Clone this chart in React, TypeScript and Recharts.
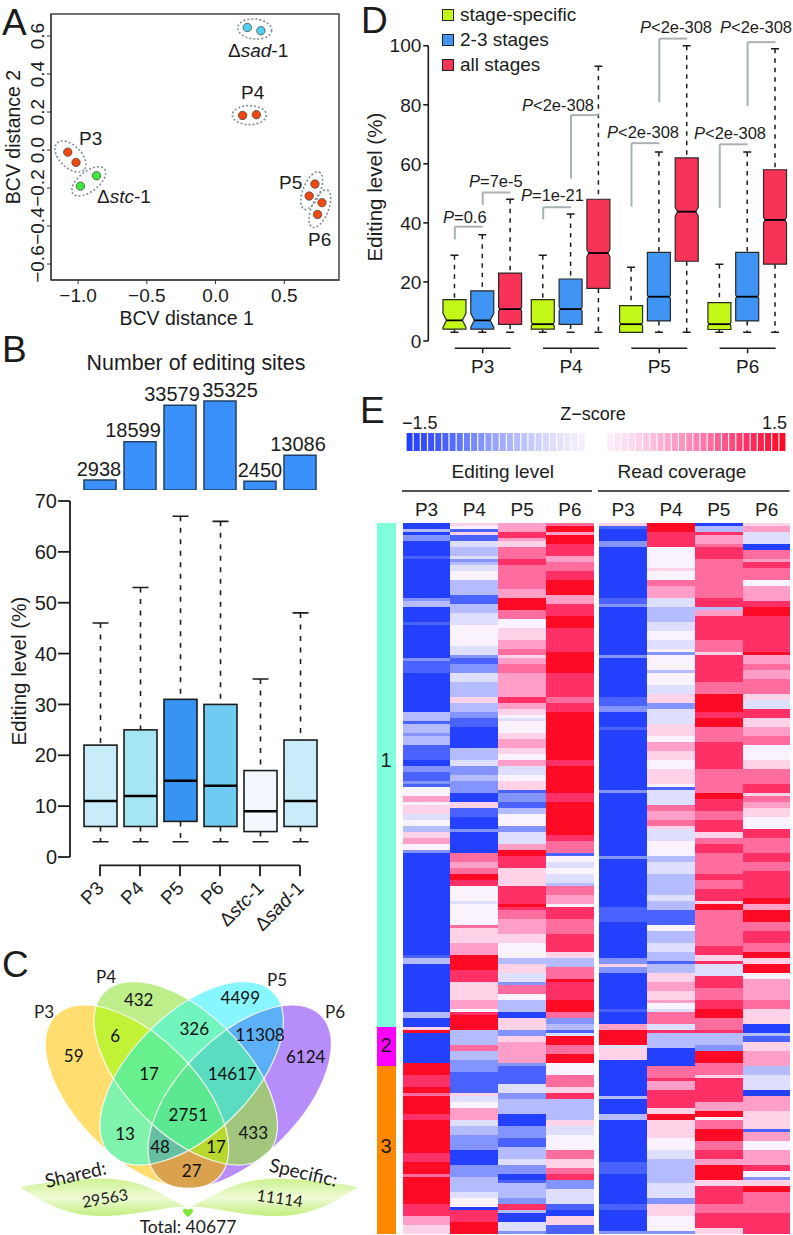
import React from 'react';
import {
  BarChart, Bar, Cell, XAxis, YAxis, ScatterChart, Scatter, ReferenceDot, ReferenceArea,
  ReferenceLine, LabelList, Legend,
} from 'recharts';

const FONT = '"Liberation Sans", Arial, sans-serif';
const VENN_FONT = 'Lato, sans-serif';
const INK = '#1c1c1c';

// --- A: BCV scatter
const A_ORANGE = '#F0480F';
const A_SAD = [{ x: 0.231, y: 0.645 }, { x: 0.33, y: 0.628 }];
const A_STC = [{ x: -0.983, y: -0.19 }, { x: -0.866, y: -0.135 }];
const A_STAGES = [
  { x: -1.075, y: -0.011 }, { x: -1.015, y: -0.065 },
  { x: 0.197, y: 0.182 }, { x: 0.297, y: 0.186 },
  { x: 0.723, y: -0.179 }, { x: 0.681, y: -0.242 },
  { x: 0.774, y: -0.277 }, { x: 0.742, y: -0.339 },
];
const A_XTICKS = [-1, -0.5, 0, 0.5];
const A_YTICKS = [-0.6, -0.4, -0.2, 0, 0.2, 0.4, 0.6];
const A_RINGS = [
  { x: 0.285, y: 0.637, rx: 17, ry: 10, tilt: 5 },
  { x: 0.246, y: 0.184, rx: 17, ry: 9.5, tilt: 0 },
  { x: -1.056, y: -0.034, rx: 19, ry: 11, tilt: 45 },
  { x: -0.922, y: -0.165, rx: 20, ry: 10, tilt: -38 },
  { x: 0.699, y: -0.213, rx: 20, ry: 8.5, tilt: -68 },
  { x: 0.759, y: -0.309, rx: 20, ry: 8.5, tilt: -68 },
];

// --- B: sites per sample and editing level
const B_SAMPLES = ['P3', 'P4', 'P5', 'P6', 'stc', 'sad'];
const B_SITES = [2938, 18599, 33579, 35325, 2450, 13086];
const B_LABEL_NUDGE = [-1, -7, -8, 10, 0, -2];
const B_HIGH = [46, 53, 67, 66, 35, 48];
const B_Q3 = [22, 25, 31, 30, 17, 23];
const B_MEDIAN = [11, 12, 15, 14, 9, 11];
const B_Q1 = [6, 6, 7, 6, 5, 6];
const B_LOW = [3, 3, 3, 3, 3, 3];
const B_FILL = ['#C8ECFA', '#A6E6F2', '#3894F2', '#6FCBF2', '#F2F8FE', '#C8ECFA'];
const B_TICKS = [0, 10, 20, 30, 40, 50, 60, 70];
const SITE_FLOOR = -1150;

const sitesTable = B_SAMPLES.map((name, i) => ({ name, sites: B_SITES[i], span: [SITE_FLOOR, B_SITES[i]] }));
const bBoxes = B_SAMPLES.map((name, i) => ({
  name, span: [B_LOW[i], B_HIGH[i]], high: B_HIGH[i], q3: B_Q3[i], median: B_MEDIAN[i], q1: B_Q1[i], low: B_LOW[i], fill: B_FILL[i],
}));

// --- C: venn, axis units are page pixels
const VENN_SETS = [
  { name: 'P3', x: 137, y: 1096.7, tilt: 45 },
  { name: 'P4', x: 185.7, y: 1073.3, tilt: 45 },
  { name: 'P5', x: 191.7, y: 1073.3, tilt: -45 },
  { name: 'P6', x: 239.7, y: 1096.7, tilt: -45 },
];
const VENN_REGIONS = [
  { value: 59, sets: [0], fill: '#FFDD6E', x: 73.7, y: 1056 },
  { value: 432, sets: [1], fill: '#BDEE8A', x: 138.7, y: 1000 },
  { value: 4499, sets: [2], fill: '#88F6FF', x: 240.3, y: 998.3 },
  { value: 6124, sets: [3], fill: '#B78DFB', x: 305.7, y: 1056.7 },
  { value: 6, sets: [0, 1], fill: '#C2F235', x: 115.3, y: 1036 },
  { value: 326, sets: [1, 2], fill: '#72F4BE', x: 194.3, y: 1029 },
  { value: 11308, sets: [2, 3], fill: '#5CB0F8', x: 260, y: 1035 },
  { value: 13, sets: [0, 2], fill: '#7FF2AC', x: 125, y: 1134 },
  { value: 433, sets: [1, 3], fill: '#A2C67E', x: 253.3, y: 1133.3 },
  { value: 27, sets: [0, 3], fill: '#DBA24E', x: 191.7, y: 1170.7 },
  { value: 17, sets: [0, 1, 2], fill: '#68F08E', x: 149, y: 1074 },
  { value: 14617, sets: [1, 2, 3], fill: '#5ADCC0', x: 232.3, y: 1074 },
  { value: 48, sets: [0, 2, 3], fill: '#66BFA0', x: 160, y: 1146.7 },
  { value: 17, sets: [0, 1, 3], fill: '#B8D830', x: 216, y: 1146.7 },
  { value: 2751, sets: [0, 1, 2, 3], fill: '#5CE890', x: 188.3, y: 1115 },
];

// --- D: notched boxes per stage
const D_STAGES = ['stage-specific', '2-3 stages', 'all stages'];
const D_COLORS = ['#C3F716', '#3F94F4', '#F73357'];
const D_GROUPS = ['P3', 'P4', 'P5', 'P6'];
const D_HIGH = [[29, 36, 48], [29, 43, 93], [25, 64, 100], [26, 64, 99]];
const D_Q3 = [[14, 17, 23], [14, 21, 48], [12, 30, 62], [13, 30, 58]];
const D_MEDIAN = [[7, 7, 10.8], [5.7, 10.8, 29.8], [5.7, 15, 43.8], [5.7, 15, 41]];
const D_Q1 = [[4, 4, 5.6], [4, 5.6, 17.8], [2.9, 6.8, 27], [3.9, 6.8, 26]];
const D_NOTCH = [[2.4, 2.4, 0.7], [0.7, 0.7, 1.2], [0.6, 0.6, 1.5], [0.6, 0.6, 1]];
const D_LOW = 3;
const D_STAGE_STEP = 0.315;
const D_TICKS = [0, 20, 40, 60, 80, 100];

const stageX = (group: number, stage: number) => group + (stage - 1) * D_STAGE_STEP;
const dBoxes = D_GROUPS.flatMap((name, g) =>
  D_STAGES.map((stage, s) => ({
    name, stage, x: stageX(g, s), span: [D_LOW, D_HIGH[g][s]], high: D_HIGH[g][s], q3: D_Q3[g][s],
    median: D_MEDIAN[g][s], q1: D_Q1[g][s], low: D_LOW, notch: D_NOTCH[g][s], fill: D_COLORS[s],
  })),
);

// group, first stage, last stage, foot and top of each bracket
const P_BRACKETS = [
  [0, 0, 1, 34.4, 38.7], [0, 1, 2, 46.1, 50.3], [1, 0, 1, 41.2, 45.3], [1, 1, 2, 55, 76.5],
  [2, 0, 1, 45.5, 67], [3, 0, 1, 45, 66.6], [2, 1, 2, 80.8, 102.4], [3, 1, 2, 79.6, 101.2],
];

// --- E: z-score bar and heatmap. Levels run from -5 to 5 (0.3 z each); [level, rows, level, rows...]
const Z_SCALE = [
  -1.5, -1.44, -1.38, -1.32, -1.26, -1.2, -1.14, -1.08, -1.02, -0.96, -0.9, -0.84, -0.78, -0.72, -0.66, -0.6, -0.54,
  -0.48, -0.42, -0.36, -0.3, -0.24, -0.18, -0.12, -0.06, 0, 0, 0, 0.06, 0.12, 0.18, 0.24, 0.3, 0.36, 0.42, 0.48, 0.54,
  0.6, 0.66, 0.72, 0.78, 0.84, 0.9, 0.96, 1.02, 1.08, 1.14, 1.2, 1.26, 1.32, 1.38, 1.44, 1.5,
];
const HEAT_COLORS = ['#2440FF', '#4A62FF', '#8494FF', '#B4BCFF', '#DEDFFF', '#FBF2FF', '#FFD2E8', '#FF9EC6', '#FF6C9E', '#FF3065', '#FF0A25'];

const EDIT_P3 = [
  -5,2,-2,1,-5,1,-3,2,-5,5,-4,1,-5,13,-3,1,-2,2,-5,5,-4,1,-5,5,
  -5,6,-3,1,-4,4,-5,13,-2,3,-4,1,-2,3,-3,1,-2,3,-4,5,
  -5,2,-3,2,-4,3,-3,1,-4,1,0,3,2,2,0,1,1,3,-1,2,0,2,-2,2,1,2,2,2,0,2,-3,1,-5,9,
  -5,25,-4,1,-2,2,-5,12,
  -5,4,-2,2,-5,3,1,1,5,1,-5,10,5,4,4,4,5,2,3,1,5,6,4,2,
  5,11,4,3,5,4,3,1,5,9,4,4,2,3,1,3,
];
const EDIT_P4 = [
  1,1,0,1,-4,1,1,1,-4,2,-1,2,-2,3,-1,1,-3,1,-2,1,-1,2,0,3,-2,5,-4,3,-2,3,-1,4,0,5,
  0,2,-1,3,-3,1,-4,2,-3,3,-1,3,-2,5,1,2,-2,3,-3,2,-4,3,-5,7,-2,4,
  -1,2,-3,3,-2,2,-3,2,-3,2,-5,3,1,2,-4,3,-5,4,-3,1,-5,7,3,3,2,2,3,2,5,2,
  4,2,0,5,-1,1,0,7,3,1,1,5,2,4,5,5,4,4,1,3,1,3,
  2,3,0,1,4,1,5,5,-2,5,3,2,-2,3,-3,4,-4,7,1,1,-1,2,0,2,2,4,
  -1,2,-2,3,-3,5,-5,5,-3,4,-2,5,-1,2,0,3,-5,1,4,4,5,4,
];
const EDIT_P5 = [
  2,3,4,2,2,1,1,2,3,4,4,2,3,8,2,3,5,4,3,3,0,3,1,4,
  2,3,3,2,1,1,2,2,3,2,3,1,2,8,4,2,2,2,1,2,0,1,-1,1,0,4,1,2,2,3,1,2,0,2,
  2,2,-1,3,0,2,1,3,-4,1,-3,3,-4,2,-2,2,0,4,-3,2,-1,4,2,2,5,2,4,4,1,4,
  1,2,4,3,4,3,5,1,4,1,3,3,2,5,1,3,0,5,-2,2,1,3,-1,3,-3,1,3,3,0,2,
  -2,4,-5,2,1,4,-3,2,1,2,2,5,2,2,-3,1,-4,3,-4,3,-1,3,-3,2,-2,5,-5,2,
  -5,2,-3,4,-4,3,-2,4,-1,2,-3,3,-5,2,-4,1,-2,5,-3,2,4,2,-2,1,-5,3,-1,3,-3,1,
];
const EDIT_P6 = [
  3,1,5,2,2,1,5,3,4,4,2,2,3,3,4,3,5,5,2,3,4,4,5,4,4,4,
  4,4,5,7,4,8,3,2,4,3,5,16,
  4,2,5,9,4,3,5,11,4,2,3,4,-4,1,0,2,-1,2,0,2,-1,2,
  -1,1,-2,1,3,3,2,3,0,1,4,4,3,5,4,6,1,2,-2,3,3,4,5,1,4,6,
  5,4,3,2,-3,2,-2,2,-4,1,-1,1,5,3,3,3,5,3,0,4,3,4,1,2,4,2,-2,7,
  1,2,-1,3,0,5,3,3,1,3,3,2,4,2,-3,3,-1,5,-4,2,-5,2,1,3,-4,3,
];
const READ_P3 = [
  1,1,-4,1,-5,4,-3,2,-5,17,-4,2,-3,1,-5,11,
  -5,5,-3,1,-5,13,-4,3,-3,2,-5,5,-4,1,-5,10,
  -5,10,-3,1,-5,21,-3,1,-5,7,
  -5,9,-4,5,-5,12,-3,2,1,1,-3,2,-5,9,
  -5,3,-4,1,-5,4,2,2,5,5,-1,1,1,4,-5,12,-2,1,-5,5,-2,2,
  -5,14,-4,4,-5,10,-4,2,-5,7,-3,1,
];
const READ_P4 = [
  5,3,4,5,0,7,1,1,0,3,3,2,2,4,-1,3,-2,5,-1,3,0,3,
  -1,3,0,1,-3,1,0,5,-2,1,0,4,-1,3,1,3,-3,2,-1,5,1,4,0,2,2,3,1,3,
  0,3,1,5,0,1,-4,1,-1,5,3,2,2,3,3,2,1,1,-1,4,0,5,-2,2,-1,4,-2,2,
  -2,2,-2,3,-1,2,-2,3,-4,5,0,2,-2,4,-1,3,-2,3,-4,1,-2,3,1,3,2,3,1,3,
  2,1,0,2,-1,1,3,4,-1,2,4,1,-2,5,-5,6,3,4,4,1,2,3,4,6,1,2,5,2,
  1,1,1,5,0,4,-1,3,-2,8,-1,5,-3,2,1,4,0,5,-3,1,
];
const READ_P5 = [
  -5,1,-2,2,4,1,2,3,3,1,4,4,3,13,4,3,-2,1,2,2,4,8,
  3,4,1,1,4,6,4,3,3,4,5,6,4,2,5,3,3,5,4,6,
  4,3,3,8,5,2,4,4,3,3,4,4,1,2,3,2,4,3,3,7,4,2,
  3,3,4,4,1,1,5,2,3,5,3,7,4,3,1,2,4,1,-1,4,4,4,3,4,
  4,3,5,3,3,4,4,1,-2,4,-3,2,5,4,3,4,1,1,4,8,2,3,5,2,0,1,
  3,3,5,4,3,3,4,3,2,2,5,5,1,2,4,6,3,3,4,5,1,2,
];
const READ_P6 = [
  1,1,2,2,-1,4,-5,2,3,3,2,1,4,2,3,4,0,2,2,5,4,2,5,3,4,8,
  4,4,5,1,2,3,3,2,2,3,3,5,1,2,-1,3,4,3,1,3,2,3,3,3,0,5,
  1,3,3,5,4,3,1,1,3,2,2,2,1,3,0,4,4,3,3,5,4,3,3,3,4,3,
  4,2,4,4,5,2,2,2,5,4,3,3,4,4,3,3,5,2,1,2,5,3,0,2,2,4,2,3,
  3,3,1,5,-5,3,-2,1,-4,2,1,3,2,5,-2,3,-1,5,-5,2,2,5,1,6,
  -4,1,2,3,0,3,2,2,2,3,4,2,0,2,-3,1,1,2,5,2,3,7,4,8,5,2,
];
const CLUSTER_ROWS = [168, 13, 56];
const CLUSTER_COLORS = ['#80FFDD', '#FF00FF', '#FF8800'];

const HEAT_COLUMNS = [
  { key: 'ep3', label: 'P3', runs: EDIT_P3 }, { key: 'ep4', label: 'P4', runs: EDIT_P4 },
  { key: 'ep5', label: 'P5', runs: EDIT_P5 }, { key: 'ep6', label: 'P6', runs: EDIT_P6 },
  { key: 'rp3', label: 'P3', runs: READ_P3 }, { key: 'rp4', label: 'P4', runs: READ_P4 },
  { key: 'rp5', label: 'P5', runs: READ_P5 }, { key: 'rp6', label: 'P6', runs: READ_P6 },
];
const HEAT_ROWS = 237;
const CLUSTER_W = 19.3;
const LEAD_GAP = 6.3;
const COL_W = 47.8;
const MID_GAP = 5.5;

function expand(runs: number[]) {
  const out: number[] = [];
  for (let i = 0; i < runs.length; i += 2) {
    for (let n = 0; n < runs[i + 1]; n++) out.push(runs[i]);
  }
  return out;
}

const columnLevels = HEAT_COLUMNS.map((c) => expand(c.runs));
const clusterOf = CLUSTER_ROWS.flatMap((n, i) => Array(n).fill(i));
const heatRows = Array.from({ length: HEAT_ROWS }, (_, row) => {
  const r: any = { row, cluster: CLUSTER_W, leadGap: LEAD_GAP, midGap: MID_GAP };
  HEAT_COLUMNS.forEach((c) => { r[c.key] = COL_W; });
  return r;
});
const heatLevel = (col: number, row: number) => {
  const levels = columnLevels[col];
  return levels[Math.min(row, levels.length - 1)];
};
const HEAT_TICKS = HEAT_COLUMNS.map((_, i) => CLUSTER_W + LEAD_GAP + COL_W * (i + 0.5) + (i > 3 ? MID_GAP : 0));
const HEAT_TOTAL = CLUSTER_W + LEAD_GAP + COL_W * 8 + MID_GAP;

function hexRgb(hex: string) {
  return [1, 3, 5].map((i) => parseInt(hex.slice(i, i + 2), 16));
}
function zColor(z: number) {
  if (z === 0) return '#ffffff';
  const pos = z / 0.3 + 5;
  const lo = Math.min(Math.floor(pos), 9);
  const t = pos - lo;
  const a = hexRgb(HEAT_COLORS[lo]);
  const b = hexRgb(HEAT_COLORS[lo + 1]);
  return `rgb(${a.map((v, i) => Math.round(v + (b[i] - v) * t)).join(',')})`;
}

const minus = (v: number, digits = 1) => v.toFixed(digits).replace('-', '\u2212');

function Place({ left, top, children }: any) {
  return <div style={{ position: 'absolute', left, top }}>{children}</div>;
}

// A pieces
function Dot({ cx, cy, fill }: any) {
  return <circle cx={cx} cy={cy} r={4.2} fill={fill} stroke="#4a4a3a" strokeWidth={0.8} />;
}

function RotatedTick({ x, y, payload }: any) {
  return (
    <text x={0} y={0} transform={`translate(${x - 1},${y}) rotate(-90)`} textAnchor="middle" fontSize={19} fill={INK}>
      {minus(payload.value)}
    </text>
  );
}

function PanelA() {
  return (
    <ScatterChart width={360} height={340} margin={{ top: 14, right: 21, bottom: 0, left: 0 }}>
      <XAxis type="number" dataKey="x" domain={[-1.197, 0.898]} ticks={A_XTICKS} allowDataOverflow height={60}
        tickSize={4} tickMargin={5} stroke="#333" tick={{ fontSize: 19, fill: INK }} tickFormatter={(v) => minus(v)} />
      <YAxis type="number" dataKey="y" domain={[-0.684, 0.716]} ticks={A_YTICKS} allowDataOverflow width={51}
        tickSize={4} stroke="#333" tick={<RotatedTick />} />
      <ReferenceArea x1={-1.197} x2={0.898} y1={-0.684} y2={0.716} fill="none" stroke="#444" strokeWidth={1.5} ifOverflow="visible" />
      {A_RINGS.map((ring, i) => (
        <ReferenceDot key={i} x={ring.x} y={ring.y} ifOverflow="visible"
          shape={({ cx, cy }: any) => (
            <ellipse cx={cx} cy={cy} rx={ring.rx} ry={ring.ry} transform={`rotate(${ring.tilt} ${cx} ${cy})`}
              fill="none" stroke="#7f8f96" strokeWidth={1.6} strokeDasharray="2 2" />
          )} />
      ))}
      <Scatter data={A_SAD} isAnimationActive={false} shape={(p: any) => <Dot {...p} fill="#4FD1F5" />} />
      <Scatter data={A_STC} isAnimationActive={false} shape={(p: any) => <Dot {...p} fill="#3CE83C" />} />
      <Scatter data={A_STAGES} isAnimationActive={false} shape={(p: any) => <Dot {...p} fill={A_ORANGE} />} />
    </ScatterChart>
  );
}

// B pieces
function SiteLabel({ x, y, width, value, index }: any) {
  return (
    <text x={x + width / 2 + B_LABEL_NUDGE[index]} y={y - 4.5} textAnchor="middle" fontSize={20} fill={INK}>{value}</text>
  );
}

function PanelBSites() {
  return (
    <BarChart width={290} height={115} data={sitesTable} margin={{ top: 0, right: 25, bottom: 0, left: 25 }} barSize={32}>
      <XAxis dataKey="name" hide />
      <YAxis hide domain={[SITE_FLOOR, 45981]} allowDataOverflow />
      <Bar dataKey="span" fill="#3A90F8" stroke="#1f3f66" strokeWidth={1.5} isAnimationActive={false}>
        <LabelList dataKey="sites" content={<SiteLabel />} />
      </Bar>
    </BarChart>
  );
}

function LevelBox({ x, y, width, height, payload }: any) {
  const { high, low, q3, median, q1, fill } = payload;
  const at = (v: number) => y + (height * (high - v)) / (high - low);
  const mid = x + width / 2;
  return (
    <g>
      <path d={`M${mid} ${at(high)}V${at(q3)}M${mid} ${at(q1)}V${at(low)}`} stroke={INK} strokeWidth={1.6} strokeDasharray="5 6.5" fill="none" />
      <path d={`M${mid - 8} ${at(high)}h16M${mid - 8} ${at(low)}h16`} stroke={INK} strokeWidth={1.6} fill="none" />
      <rect x={x} y={at(q3)} width={width} height={at(q1) - at(q3)} fill={fill} stroke={INK} strokeWidth={1.6} />
      <line x1={x} x2={x + width} y1={at(median)} y2={at(median)} stroke="#000" strokeWidth={2.6} />
    </g>
  );
}

function SampleTick({ x, y, payload, index }: any) {
  const barY = y + 8.3;
  const name = payload.value;
  const mutant = name === 'stc' || name === 'sad';
  return (
    <g>
      <path d={`M${x} ${barY + 11}V${barY}${index < 5 ? 'h40' : ''}`} stroke={INK} strokeWidth={1.8} fill="none" />
      <text transform={`translate(${x + 5},${barY + 24}) rotate(-45)`} textAnchor="end" fontSize={19} fill={INK}>
        {mutant ? (
          <>{'\u0394'}<tspan fontStyle="italic">{name}</tspan>-1</>
        ) : name}
      </text>
    </g>
  );
}

function PanelBLevels() {
  return (
    <BarChart width={320} height={467} data={bBoxes} margin={{ top: 21, right: 0, bottom: 0, left: 0 }} barSize={33}>
      <XAxis dataKey="name" scale="band" padding={{ left: 10, right: 0 }} axisLine={false} tickLine={false} tickSize={0} tickMargin={0}
        interval={0} height={90} tick={<SampleTick />} />
      <YAxis domain={[0, 70]} ticks={B_TICKS} width={70} tickSize={12} tickMargin={1} stroke={INK} strokeWidth={1.8}
        tick={{ fontSize: 20, fill: INK }} />
      <Bar dataKey="span" isAnimationActive={false} shape={<LevelBox />} />
    </BarChart>
  );
}

// C pieces
const VENN_RX = 115;
const VENN_RY = 60;

function VennClip({ cx, cy, index, tilt }: any) {
  return (
    <clipPath id={`venn-set-${index}`}>
      <ellipse cx={cx} cy={cy} rx={VENN_RX} ry={VENN_RY} transform={`rotate(${tilt} ${cx} ${cy})`} />
    </clipPath>
  );
}

function VennRegion({ cx, cy, sets, fill }: any) {
  const rect = <rect x={cx - 400} y={cy - 400} width={800} height={800} fill={fill} />;
  return sets.reduceRight(
    (inner: any, s: number) => <g clipPath={`url(#venn-set-${s})`}>{inner}</g>,
    rect,
  );
}

function PanelC() {
  return (
    <ScatterChart width={360} height={255} margin={{ top: 0, right: 0, bottom: 0, left: 0 }}>
      <XAxis type="number" dataKey="x" hide domain={[0, 360]} allowDataOverflow />
      <YAxis type="number" dataKey="y" hide domain={[980, 1235]} reversed allowDataOverflow />
      <Scatter data={VENN_SETS} isAnimationActive={false} shape={(p: any) => <VennClip {...p} tilt={p.payload.tilt} index={VENN_SETS.indexOf(p.payload)} />} />
      <Scatter data={VENN_REGIONS} isAnimationActive={false} shape={(p: any) => <VennRegion cx={p.cx} cy={p.cy} sets={p.payload.sets} fill={p.payload.fill} />} />
      <Scatter data={VENN_SETS} isAnimationActive={false}
        shape={({ cx, cy, payload }: any) => (
          <ellipse cx={cx} cy={cy} rx={VENN_RX} ry={VENN_RY} transform={`rotate(${payload.tilt} ${cx} ${cy})`} fill="none" stroke="#fff" strokeWidth={1.2} opacity={0.85} />
        )} />
      <Scatter data={VENN_REGIONS} isAnimationActive={false}
        shape={({ cx, cy, payload }: any) => (
          <text x={cx} y={cy + 6} textAnchor="middle" fontSize={17} fontFamily={VENN_FONT} fill="#111">{payload.value}</text>
        )} />
    </ScatterChart>
  );
}

// D pieces
function NotchBox({ x, y, width, height, payload }: any) {
  const { high, low, q3, median, q1, notch, fill } = payload;
  const at = (v: number) => y + (height * (high - v)) / (high - low);
  const mid = x + width / 2;
  const r = x + width;
  const inset = Math.min(3.5, notch * 1.6);
  const nHi = at(median + notch);
  const nLo = at(Math.max(median - notch, q1 + 0.3));
  const m = at(median);
  return (
    <g>
      <path d={`M${mid} ${at(high)}V${at(q3)}M${mid} ${at(q1)}V${at(low)}`} stroke={INK} strokeWidth={1.5} strokeDasharray="4.5 5" fill="none" />
      <path d={`M${mid - 4} ${at(high)}h8M${mid - 4} ${at(low)}h8`} stroke={INK} strokeWidth={1.5} fill="none" />
      <path d={`M${x} ${at(q3)}H${r}V${nHi}L${r - inset} ${m}L${r} ${nLo}V${at(q1)}H${x}V${nLo}L${x + inset} ${m}L${x} ${nHi}Z`}
        fill={fill} stroke="#2a2a2a" strokeWidth={1.2} />
      <line x1={x + inset} x2={r - inset} y1={m} y2={m} stroke="#000" strokeWidth={1.8} />
    </g>
  );
}

function GroupTick({ x, y, payload }: any) {
  const barY = y + 7.3;
  return (
    <g>
      <path d={`M${x - 28} ${barY}H${x + 28}M${x} ${barY}v5`} stroke={INK} strokeWidth={1.5} fill="none" />
      <text x={x} y={y + 32} textAnchor="middle" fontSize={19} fill={INK}>{D_GROUPS[payload.value]}</text>
    </g>
  );
}

function StageLegend() {
  return (
    <div style={{ position: 'absolute', left: 82, top: 2 }}>
      {D_STAGES.map((stage, i) => (
        <div key={stage} style={{ display: 'flex', alignItems: 'center', height: 25, whiteSpace: 'nowrap', fontSize: 19, color: INK }}>
          <span style={{ width: 10, height: 10, marginRight: 6, background: D_COLORS[i], border: '1px solid #222' }} />
          {stage}
        </div>
      ))}
    </div>
  );
}

function PanelD() {
  return (
    <BarChart width={433} height={400} data={dBoxes} margin={{ top: 45.7, right: 0, bottom: 19, left: 0 }} barSize={23}>
      <XAxis type="number" dataKey="x" domain={[-0.616, 3.514]} ticks={[0, 1, 2, 3]} allowDataOverflow axisLine={false} tickLine={false}
        tickSize={0} tickMargin={0} height={40} interval={0} tick={<GroupTick />} />
      <YAxis domain={[0, 100]} ticks={D_TICKS} width={68.3} tickSize={5} tickMargin={2} stroke={INK} strokeWidth={1.6} tick={{ fontSize: 19, fill: INK }} />
      <Legend verticalAlign="top" align="left" wrapperStyle={{ width: 0, height: 0, left: 0, top: 0 }} content={<StageLegend />} />
      {P_BRACKETS.flatMap(([g, a, b, foot, top], i) => [
        <ReferenceLine key={`v${i}`} ifOverflow="visible" stroke="#A9B2B2" strokeWidth={2}
          segment={[{ x: stageX(g, a), y: foot }, { x: stageX(g, a), y: top }]} />,
        <ReferenceLine key={`h${i}`} ifOverflow="visible" stroke="#A9B2B2" strokeWidth={2}
          segment={[{ x: stageX(g, a), y: top }, { x: stageX(g, b), y: top }]} />,
      ])}
      <Bar dataKey="span" isAnimationActive={false} shape={<NotchBox />} />
    </BarChart>
  );
}

// E pieces
function ZScaleBar() {
  const data = Z_SCALE.map((z, i) => ({ i, z, one: 1 }));
  return (
    <BarChart width={380} height={18} data={data} margin={{ top: 0, right: 0, bottom: 0, left: 0 }} barCategoryGap="8%">
      <XAxis dataKey="i" hide />
      <YAxis hide domain={[0, 1]} />
      <Bar dataKey="one" isAnimationActive={false}>
        {data.map((d) => <Cell key={d.i} fill={zColor(d.z)} />)}
      </Bar>
    </BarChart>
  );
}

function Heatmap() {
  return (
    <BarChart layout="vertical" width={HEAT_TOTAL} height={741.5} data={heatRows} margin={{ top: 0.5, right: 0, bottom: 0, left: 0 }} barCategoryGap={0} barGap={0}>
      <XAxis type="number" orientation="top" domain={[0, HEAT_TOTAL]} ticks={HEAT_TICKS} interval={0} allowDataOverflow height={30}
        axisLine={false} tickLine={false} tickSize={0} tickMargin={7} tick={{ fontSize: 19, fill: INK }}
        tickFormatter={(v) => HEAT_COLUMNS[HEAT_TICKS.indexOf(v)]?.label ?? ''} />
      <YAxis type="category" dataKey="row" hide />
      <Bar dataKey="cluster" stackId="h" isAnimationActive={false} shapeRendering="crispEdges">
        {heatRows.map((r) => <Cell key={r.row} fill={CLUSTER_COLORS[clusterOf[r.row]]} />)}
      </Bar>
      <Bar dataKey="leadGap" stackId="h" fill="none" isAnimationActive={false} />
      {HEAT_COLUMNS.flatMap((c, col) => {
        const series = (
          <Bar key={c.key} dataKey={c.key} stackId="h" isAnimationActive={false} shapeRendering="crispEdges">
            {heatRows.map((r) => <Cell key={r.row} fill={HEAT_COLORS[heatLevel(col, r.row) + 5]} />)}
          </Bar>
        );
        return col === 3 ? [series, <Bar key="mid" dataKey="midGap" stackId="h" fill="none" isAnimationActive={false} />] : [series];
      })}
    </BarChart>
  );
}

// text that sits outside any axis
function T({ x, y, size = 19, anchor = 'start', rotate, font, children }: any) {
  return (
    <text x={x} y={y} fontSize={size} textAnchor={anchor} fontFamily={font} fill={INK}
      transform={rotate !== undefined ? `rotate(${rotate} ${x} ${y})` : undefined}>
      {children}
    </text>
  );
}

const It = ({ children }: any) => <tspan fontStyle="italic">{children}</tspan>;

function Overlay() {
  return (
    <svg width={793} height={1235} style={{ position: 'absolute', left: 0, top: 0, pointerEvents: 'none' }}>
      <defs>
        <linearGradient id="ribbon" x1="0" y1="0" x2="0" y2="1">
          <stop offset="0" stopColor="#CDF28F" />
          <stop offset="0.5" stopColor="#EFFBD6" />
          <stop offset="1" stopColor="#C2EE7E" />
        </linearGradient>
      </defs>
      {[['A', 2, 35], ['B', 2, 362], ['C', 2, 977], ['D', 361, 33], ['E', 360, 423]].map(([l, x, y]) => (
        <T key={l as string} x={x} y={y} size={37}>{l}</T>
      ))}

      <T x={186.7} y={325} size={19.5} anchor="middle">BCV distance 1</T>
      <T x={20} y={137} size={19.5} anchor="middle" rotate={-90}>BCV distance 2</T>
      <T x={228} y={56.7}>{'\u0394'}<It>sad</It>-1</T>
      <T x={241} y={99}>P4</T>
      <T x={79} y={145}>P3</T>
      <T x={97} y={203}>{'\u0394'}<It>stc</It>-1</T>
      <T x={279} y={189}>P5</T>
      <T x={308} y={246}>P6</T>

      <T x={196} y={370} size={21.4} anchor="middle">Number of editing sites</T>
      <T x={26} y={671} size={20.6} anchor="middle" rotate={-90}>Editing level (%)</T>

      <path d="M20 1187C60 1180 100 1177 120 1180C150 1183 170 1200 187 1207C170 1205 140 1216 100 1216C65 1216 40 1200 20 1187Z" fill="url(#ribbon)" />
      <path d="M358 1187C318 1180 278 1177 258 1180C228 1183 208 1200 190 1207C208 1205 238 1216 278 1216C313 1216 338 1200 358 1187Z" fill="url(#ribbon)" />
      <path d="M188 1217C184 1214 183 1212 183 1210.5C183 1208.5 186.5 1208 188 1210C189.5 1208 193 1208.5 193 1210.5C193 1212 192 1214 188 1217Z" fill="#7DE838" />
      <T x={44} y={1018} size={17} anchor="middle" font={VENN_FONT}>P3</T>
      <T x={106} y={983} size={17} anchor="middle" font={VENN_FONT}>P4</T>
      <T x={277} y={986} size={17} anchor="middle" font={VENN_FONT}>P5</T>
      <T x={335} y={1018} size={17} anchor="middle" font={VENN_FONT}>P6</T>
      <T x={77} y={1181} size={19} anchor="middle" font={VENN_FONT} rotate={-13}>Shared:</T>
      <T x={106} y={1204} size={16} anchor="middle" font={VENN_FONT} rotate={-10}>29563</T>
      <T x={302} y={1179} size={19} anchor="middle" font={VENN_FONT} rotate={13}>Specific:</T>
      <T x={279} y={1204} size={16} anchor="middle" font={VENN_FONT} rotate={8}>11114</T>
      <T x={188} y={1233} size={17.5} anchor="middle" font={VENN_FONT}>Total: 40677</T>

      <T x={382} y={187} size={20.6} anchor="middle" rotate={-90}>Editing level (%)</T>
      <T x={443} y={222.6} size={16.5}><It>P</It>=0.6</T>
      <T x={469} y={186.7} size={16.5}><It>P</It>=7e-5</T>
      <T x={521} y={201} size={16.5}><It>P</It>=1e-21</T>
      <T x={522} y={111} size={16.5}><It>P</It>{'<2e-308'}</T>
      <T x={607} y={138} size={16.5}><It>P</It>{'<2e-308'}</T>
      <T x={694} y={139.3} size={16.5}><It>P</It>{'<2e-308'}</T>
      <T x={640} y={33.3} size={16.5}><It>P</It>{'<2e-308'}</T>
      <T x={720} y={33.3} size={16.5}><It>P</It>{'<2e-308'}</T>

      <T x={593} y={420} size={18} anchor="middle">Z{'\u2212'}score</T>
      <T x={402} y={429} size={18}>{'\u2212'}1.5</T>
      <T x={787} y={429} size={18} anchor="end">1.5</T>
      <T x={502.7} y={477.7} size={19} anchor="middle">Editing level</T>
      <T x={682} y={477.7} size={19} anchor="middle">Read coverage</T>
      <path d="M402 491H592M598 491H789.5" stroke={INK} strokeWidth={1.6} fill="none" />
      <T x={386} y={767} size={20} anchor="middle">1</T>
      <T x={386} y={1052} size={20} anchor="middle">2</T>
      <T x={386} y={1153} size={20} anchor="middle">3</T>
    </svg>
  );
}

export default function App() {
  return (
    <div style={{ position: 'absolute', left: 0, top: 0, width: 793, height: 1235, background: '#fff', fontFamily: FONT, overflow: 'hidden' }}>
      <Place left={0} top={0}><PanelA /></Place>
      <Place left={54.5} top={375}><PanelBSites /></Place>
      <Place left={0} top={480}><PanelBLevels /></Place>
      <Place left={0} top={980}><PanelC /></Place>
      <Place left={360} top={0}><PanelD /></Place>
      <Place left={405.7} top={433}><ZScaleBar /></Place>
      <Place left={376.7} top={492}><Heatmap /></Place>
      <Overlay />
    </div>
  );
}
